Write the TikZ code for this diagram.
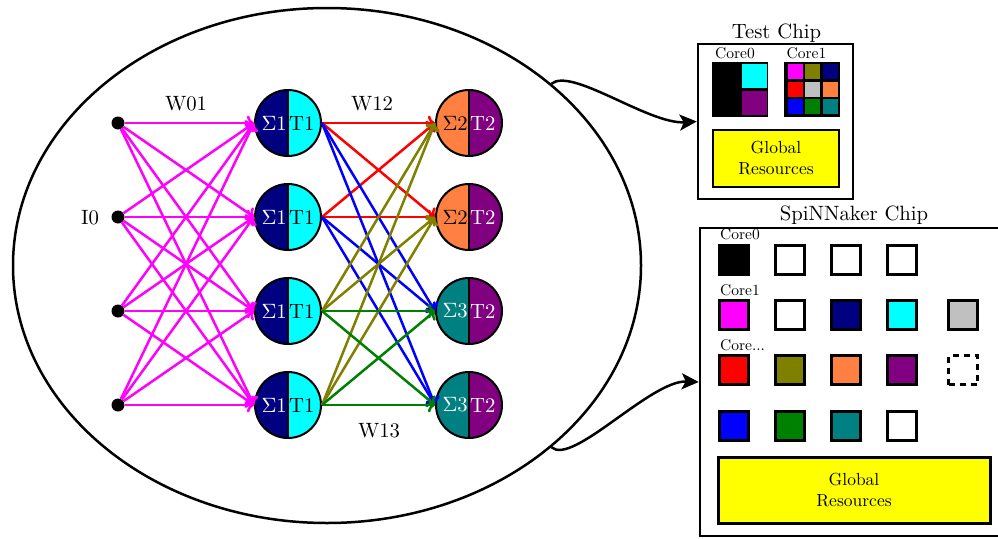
\documentclass[tikz,border=0pt]{standalone}
\usepackage{fontspec}
\setmainfont{lmroman10-regular}[Extension=.otf]
\usetikzlibrary{arrows.meta,shapes.geometric}
\DeclareFontFamily{OT1}{cmrten}{}
\DeclareFontShape{OT1}{cmrten}{m}{n}{<-> cmr10}{}
\newcommand\sig{{\usefont{OT1}{cmrten}{m}{n}\char6}}
\definecolor{navyc}{RGB}{0,0,128}
\definecolor{cyanc}{RGB}{0,255,255}
\definecolor{orangec}{RGB}{255,128,64}
\definecolor{purplec}{RGB}{128,0,128}
\definecolor{tealc}{RGB}{0,128,128}
\definecolor{olivec}{RGB}{128,128,0}
\definecolor{greenc}{RGB}{0,128,0}
\definecolor{bluec}{RGB}{0,0,255}
\definecolor{redc}{RGB}{255,0,0}
\definecolor{magentac}{RGB}{255,0,255}
\definecolor{silverc}{RGB}{192,192,192}
\definecolor{yellowc}{RGB}{255,255,0}
\newcommand\fbig{\fontsize{20.7}{24}\selectfont}
\newcommand\fsmall{\fontsize{15.5}{18}\selectfont}
\newcommand\fmid{\fontsize{17.5}{21}\selectfont}
\begin{document}
\begin{tikzpicture}[x=1pt,y=-1pt,
  neuron/.style 2 args={circle, draw, line width=2pt, minimum size=66pt, inner sep=0pt,
    path picture={
      \fill[#1] (path picture bounding box.north west) rectangle (path picture bounding box.south);
      \fill[#2] (path picture bounding box.north) rectangle (path picture bounding box.south east);
      \draw[line width=2pt] (path picture bounding box.north) -- (path picture bounding box.south);}},
  lbl/.style={font=\fbig, inner sep=1pt},
  wlbl/.style={font=\fbig, inner sep=0pt},
  dotnode/.style={circle, fill=black, minimum size=13pt, inner sep=0pt},
  conn/.style={line width=2.5pt, ->},
  corebox/.style={draw, line width=3pt, minimum size=29pt, inner sep=0pt},
  curvarrow/.style={line width=2.5pt, -{Stealth[length=17pt,width=16pt,inset=4pt]}},
  chipbox/.style={draw, line width=2.5pt, inner sep=0pt},
  grbox/.style={draw, line width=2.5pt, fill=yellowc, inner sep=0pt, align=center, font=\fmid},
  smalllbl/.style={font=\fsmall, inner sep=0pt, anchor=base}
]
\useasboundingbox (0,0) rectangle (998,538);

% main ellipse
\node[ellipse, draw, line width=2.5pt, minimum width=628pt, minimum height=515pt, inner sep=0pt] (ell) at (327,265.5) {};

% inputs
\foreach \i/\y in {1/123,2/217,3/311,4/405}{
  \node[dotnode] (I\i) at (118,\y) {};
}
\node[wlbl] (I0lbl) at (90,218) {I0};

% layer 1
\foreach \i/\y in {1/123,2/217,3/311,4/405}{
  \node[neuron={navyc}{cyanc}] (N\i) at (288,\y) {};
  \node[lbl, text=white, anchor=east] (N\i s) at (N\i.center) {\sig1};
  \node[lbl, text=black, anchor=west] (N\i t) at (N\i.center) {T1};
}
% layer 2
\foreach \i/\y in {1/123,2/217}{
  \node[neuron={orangec}{purplec}] (M\i) at (469,\y) {};
  \node[lbl, text=black, anchor=east] (M\i s) at (M\i.center) {\sig2};
  \node[lbl, text=white, anchor=west] (M\i t) at (M\i.center) {T2};
}
\foreach \i/\y in {3/311,4/405}{
  \node[neuron={tealc}{purplec}] (M\i) at (469,\y) {};
  \node[lbl, text=white, anchor=east] (M\i s) at (M\i.center) {\sig3};
  \node[lbl, text=white, anchor=west] (M\i t) at (M\i.center) {T2};
}

% input connections
\foreach \i in {1,...,4}{
  \foreach \j in {1,...,4}{
    \draw[conn, magentac] (I\i) -- (N\j.west);
  }
}
% layer 1 -> layer 2
\foreach \i in {1,2}{
  \foreach \j in {1,2}{\draw[conn, redc] (N\i.east) -- (M\j.west);}
}
\foreach \i in {1,2}{
  \foreach \j in {3,4}{\draw[conn, bluec] (N\i.east) -- (M\j.west);}
}
\foreach \i in {3,4}{
  \foreach \j in {1,2}{\draw[conn, olivec] (N\i.east) -- (M\j.west);}
}
\foreach \i in {3,4}{
  \foreach \j in {3,4}{\draw[conn, greenc] (N\i.east) -- (M\j.west);}
}

% weight labels
\node[wlbl] (W01) at (186,104) {W01};
\node[wlbl] (W12) at (372,104) {W12};
\node[wlbl] (W13) at (379,431) {W13};

% Test chip
\node[chipbox, minimum width=155pt, minimum height=155pt] (tc) at (775.5,121.5) {};
\node[font=\fbig, inner sep=0pt, anchor=base] (tclbl) at (776.5,38) {Test Chip};
\node[smalllbl] (tcc0) at (735,58) {Core0};
\node[smalllbl] (tcc1) at (806.5,58) {Core1};
\fill[black] (712,62) rectangle (768,117);
\fill[cyanc] (742,64) rectangle (767,88);
\fill[purplec] (742,91) rectangle (767,115);
\fill[black] (784,62) rectangle (840,117);
\foreach \c [count=\k from 0] in {magentac,olivec,navyc,redc,silverc,orangec,bluec,greenc,tealc}{
  \pgfmathtruncatemacro\cx{mod(\k,3)}
  \pgfmathtruncatemacro\cy{div(\k,3)}
  \fill[\c] ({787.5+17.5*\cx},{64+17.5*\cy}) rectangle ++(15,15);
}
\node[grbox, minimum width=126pt, minimum height=57pt] (tcgr) at (776,158.5) {Global\\Resources};

% SpiNNaker chip
\node[chipbox, minimum width=310pt, minimum height=308pt] (sp) at (855,382) {};
\node[font=\fbig, inner sep=0pt, anchor=base] (splbl) at (854,220) {SpiNNaker Chip};
\node[smalllbl] (spc0) at (740,239) {Core0};
\node[smalllbl] (spc1) at (740,295) {Core1};
\node[smalllbl, anchor=base west] (spcx) at (720,350) {Core...};

\node[corebox, fill=black] (s11) at (734,260) {};
\node[corebox, fill=white] (s12) at (790,260) {};
\node[corebox, fill=white] (s13) at (846,260) {};
\node[corebox, fill=white] (s14) at (902,260) {};

\node[corebox, fill=magentac] (s21) at (734,315) {};
\node[corebox, fill=white] (s22) at (790,315) {};
\node[corebox, fill=navyc] (s23) at (846,315) {};
\node[corebox, fill=cyanc] (s24) at (902,315) {};
\node[corebox, fill=silverc] (s25) at (963,315) {};

\node[corebox, fill=redc] (s31) at (734,370) {};
\node[corebox, fill=olivec] (s32) at (790,370) {};
\node[corebox, fill=orangec] (s33) at (846,370) {};
\node[corebox, fill=purplec] (s34) at (902,370) {};
\node[corebox, fill=white, dashed, dash pattern=on 6pt off 5pt] (s35) at (963,370) {};

\node[corebox, fill=bluec] (s41) at (734,426) {};
\node[corebox, fill=greenc] (s42) at (790,426) {};
\node[corebox, fill=tealc] (s43) at (846,426) {};
\node[corebox, fill=white] (s44) at (902,426) {};

\node[grbox, line width=3pt, minimum width=272pt, minimum height=66pt] (spgr) at (854,490) {Global\\Resources};

% curved arrows
\draw[curvarrow] (ell.39) .. controls +(20,-17) and +(-48,3) .. (tc.west);
\draw[curvarrow] (ell.-39.5) .. controls +(21,19) and +(-48,-2) .. (sp.west);
\end{tikzpicture}
\end{document}
